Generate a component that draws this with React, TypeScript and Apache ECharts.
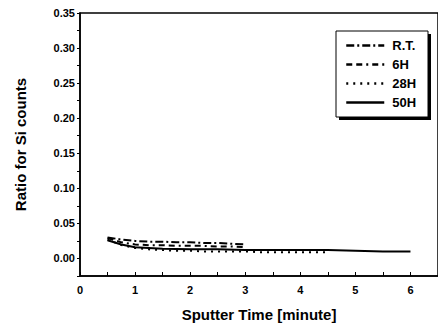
import React, { useEffect, useRef } from "react";
import * as echarts from "echarts";

const seriesNames = ["R.T.", "6H", "28H", "50H"];
const xRT = [0.5, 0.75, 1, 1.25, 1.5, 1.75, 2, 2.25, 2.5, 2.75, 3];
const yRT = [0.030, 0.027, 0.025, 0.024, 0.024, 0.023, 0.023, 0.022, 0.022, 0.021, 0.020];
const x6H = [0.5, 0.75, 1, 1.25, 1.5, 1.75, 2, 2.25, 2.5, 2.75, 3];
const y6H = [0.029, 0.023, 0.020, 0.019, 0.019, 0.018, 0.018, 0.018, 0.017, 0.017, 0.016];
const x28H = [0.5, 0.75, 1, 1.25, 1.5, 1.75, 2, 2.25, 2.5, 2.75, 3, 3.25, 3.5, 3.75, 4, 4.25, 4.5];
const y28H = [0.027, 0.019, 0.015, 0.013, 0.012, 0.011, 0.011, 0.010, 0.010, 0.010, 0.010, 0.009, 0.009, 0.009, 0.009, 0.009, 0.009];
const x50H = [0.5, 0.75, 1, 1.5, 2, 2.5, 3, 3.5, 4, 4.5, 5, 5.5, 6];
const y50H = [0.026, 0.020, 0.016, 0.014, 0.013, 0.013, 0.012, 0.012, 0.012, 0.012, 0.011, 0.010, 0.010];
const xTickLabels = ["0", "1", "2", "3", "4", "5", "6"];
const yTickLabels = ["0.00", "0.05", "0.10", "0.15", "0.20", "0.25", "0.30", "0.35"];

const FONT = "Liberation Sans, Arial, sans-serif";

function pairs(xs: number[], ys: number[]) {
  return xs.map((x, i) => [x, ys[i]]);
}

export default function App() {
  const ref = useRef<HTMLDivElement>(null);
  useEffect(() => {
    if (!ref.current) return;
    const chart = echarts.init(ref.current, undefined, { renderer: "svg" });
    const dashes: any[] = [[8, 3, 2, 3], [6, 4, 6, 4, 2, 4], [2, 5], "solid"];
    const datas = [pairs(xRT, yRT), pairs(x6H, y6H), pairs(x28H, y28H), pairs(x50H, y50H)];
    chart.setOption({
      animation: false,
      backgroundColor: "#fff",
      grid: {
        left: 80,
        top: 13,
        right: -2,
        bottom: 51,
        show: true,
        borderColor: "#000",
        borderWidth: 1.5,
      },
      graphic: [
        { type: "rect", z: 5, shape: { x: 339, y: 34, width: 92, height: 86 }, style: { fill: "#000" } },
        { type: "rect", z: 6, shape: { x: 336, y: 31, width: 92, height: 86 }, style: { fill: "#fff", stroke: "#000", lineWidth: 1 } },
      ],
      legend: {
        z: 10,
        left: 340,
        top: 34,
        orient: "vertical",
        itemWidth: 38,
        itemHeight: 12,
        itemGap: 6,
        data: seriesNames,
        itemStyle: { opacity: 0 },
        lineStyle: { width: 2.5 },
        textStyle: { fontFamily: FONT, fontWeight: "bold", fontSize: 13, color: "#000", padding: [0, 0, 0, 3] },
      },
      xAxis: {
        type: "value",
        min: 0,
        max: 6.5,
        interval: 0.5,
        name: "Sputter Time [minute]",
        nameLocation: "middle",
        nameGap: 31,
        nameTextStyle: { fontFamily: FONT, fontWeight: "bold", fontSize: 15, color: "#000" },
        axisLine: { onZero: false, lineStyle: { color: "#000", width: 1.5 } },
        axisTick: { inside: true, length: 4, lineStyle: { color: "#000", width: 1 } },
        splitLine: { show: false },
        axisLabel: {
          margin: 8,
          fontFamily: FONT,
          fontWeight: "bold",
          fontSize: 11,
          color: "#000",
          showMaxLabel: false,
          formatter: (v: number) => {
            const i = Math.round(v);
            return Math.abs(v - i) < 1e-6 && i < xTickLabels.length ? xTickLabels[i] : "";
          },
        },
      },
      yAxis: {
        type: "value",
        min: -0.025,
        max: 0.35,
        interval: 0.025,
        name: "Ratio for Si counts",
        nameLocation: "middle",
        nameGap: 52,
        nameTextStyle: { fontFamily: FONT, fontWeight: "bold", fontSize: 15, color: "#000" },
        axisLine: { onZero: false, lineStyle: { color: "#000", width: 1.5 } },
        axisTick: { inside: false, length: 3, lineStyle: { color: "#000", width: 1 } },
        splitLine: { show: false },
        axisLabel: {
          margin: 5,
          fontFamily: FONT,
          fontWeight: "bold",
          fontSize: 11,
          color: "#000",
          formatter: (v: number) => {
            const k = v / 0.05;
            const i = Math.round(k);
            return Math.abs(k - i) < 1e-6 && i >= 0 && i < yTickLabels.length ? yTickLabels[i] : "";
          },
        },
      },
      series: seriesNames.map((name, i) => ({
        name,
        type: "line",
        data: datas[i],
        symbol: "none",
        z: 3,
        lineStyle: { color: "#000", width: 2, type: dashes[i] },
        itemStyle: { color: "#000" },
      })),
    });
    return () => chart.dispose();
  }, []);
  return <div ref={ref} style={{ width: 438, height: 327, position: "absolute", left: 0, top: 0 }} />;
}
